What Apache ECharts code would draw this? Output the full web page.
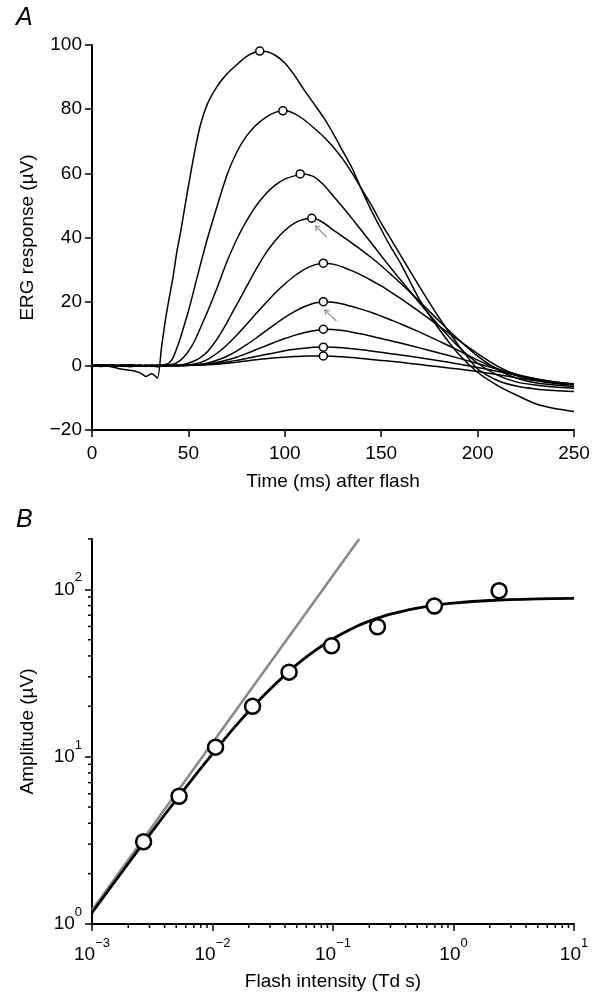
<!DOCTYPE html>
<html>
<head>
<meta charset="utf-8">
<script src="https://cdn.jsdelivr.net/npm/echarts@6/dist/echarts.min.js"></script>
<style>
  html, body { margin: 0; padding: 0; background: #fff; }
  #chart { width: 602px; height: 995px; }
</style>
</head>
<body>
<div id="chart"></div>
<script>
// panel A: ERG traces, time in ms, response in µV (dimmest flash first)
const timeMs = [0,5,10,15,20,25,28,31,34,36,38,40,42,44,46,48,50,53,56,60,65,70,75,80,85,90,95,100,
  105,110,115,120,125,130,135,140,145,150,155,160,170,180,190,200,210,220,230,240,250];

const trace1 = [0.1,0.3,0,0.1,0.2,0, 0.1,0,0.2, 0.1,0,0.1,0.2,0,0.1,0.2,0.1, 0.2,0.2,0.3,
  0.5,0.8,1.1,1.5,1.9,2.2,2.5,2.7, 2.9,3,3.1,3.1,3,2.8,2.6,2.3,2,1.7,1.4,1.1,
  0.4,-0.3,-1,-1.8,-2.7,-3.7,-4.6,-5.3,-5.9];
const trace2 = [0.2,0,0.1,0.2,0,-0.1, 0.1,0.2,0, 0.1,0.2,0,0.1,0.2,0.1,0,0.2, 0.3,0.3,0.5,
  0.8,1.2,1.7,2.3,2.9,3.5,4.1,4.7, 5.2,5.5,5.8,5.9,5.8,5.6,5.3,5,4.6,4.2,3.8,3.4,
  2.5,1.6,0.6,-0.5,-1.7,-2.9,-4,-5,-5.7];
const trace3 = [0,0.2,0.1,-0.1,0.1,0.2, -0.1,0.1,0.2, 0,0.1,0.2,0,0.1,0.2,0.1,0.2, 0.2,0.4,0.6,
  1.1,1.8,2.7,3.8,5,6.2,7.4,8.5, 9.5,10.3,10.9,11.4,11.3,11,10.5,9.9,9.2,8.5,7.8,7.1,
  5.6,4,2.4,0.7,-1,-2.6,-4,-5,-5.6];
const trace4 = [0.1,0,-0.2,0.1,0.2,-0.1, 0,0.2,-0.1, 0.1,0,0.2,0.1,-0.1,0.2,0.1,0.2, 0.3,0.5,0.9,
  1.8,3,4.6,6.5,8.6,10.8,13,15.1, 16.9,18.4,19.5,20,19.8,19.3,18.5,17.6,16.6,15.5,14.3,13.1,
  10.5,7.7,4.8,1.8,-0.8,-3,-4.4,-5.2,-5.8];
const trace5 = [-0.2,0.1,0,0.2,-0.1,0.1, 0.2,-0.1,0.1, 0,0.2,-0.1,0.1,0.2,0,0.2,0.3, 0.6,1,2,
  4,6.5,9.5,12.8,16.2,19.5,22.7,25.5, 28,30,31.4,32,31.7,30.8,29.6,28.2,26.6,24.9,23,21,
  16.8,12.4,8,3.8,0,-2.8,-4.5,-5.5,-6];
const trace6 = [0.1,-0.2,0.2,-0.1,0,0.2, -0.1,0.2,0, 0.1,-0.1,0.2,0,0.3,0.2,0.5,0.8, 1.5,2.5,4.5,
  8.5,13.5,19,24.5,30,35,39,42.2, 44.5,45.7,46,44.6,42.4,40.3,38.2,36,33.7,31.2,28.5,25.8,
  20,14,8.3,3,-1,-3.8,-5.3,-6,-6.5];
const trace7 = [-0.1,0.2,-0.2,0.1,0.3,-0.1, 0.2,-0.2,0.1, 0.2,0.1,0.3,0.5,1,1.8,3,4.5, 7.5,11.5,17,
  24.5,32.5,39.3,45,49.8,53.5,56.3,58.2, 59.2,59.8,59,56.5,53,49.5,45.8,42,38.2,34.3,30.5,26.8,
  19.5,12.5,6,0.8,-2.8,-5,-6,-6.6,-7];
const trace8 = [0.2,-0.1,0.3,0,-0.3,0.2, -0.2,0.1,-0.3, 0,0.4,0.9,2.5,5.5,9,13,17, 24,31,40,
  50,59.5,66.5,71.5,75,77.4,79,79.6, 78.6,76.7,74.2,71.5,68.3,64.5,60,55,50,44.5,39.5,34.5,
  24.5,15,6.5,-1,-4.5,-6.3,-7.2,-7.7,-8];
const trace9 = [0,0.3,-0.2,-1,-1.4,-2.2, -3.3,-2.5,-3.8, 5.5,14,21,27.5,35.5,41.8,49,56, 66,74.5,81.8,
  87.2,91,93.8,96.4,97.8,98,96.8,94.4, 90.6,86,81.8,77.5,72.5,67,61.5,54.7,48.3,42.5,37,32,
  20.5,11.5,3.8,-2,-6,-9.1,-11.8,-13.3,-14.2];
const traces = [trace1, trace2, trace3, trace4, trace5, trace6, trace7, trace8, trace9];

// peak of each trace (also the amplitudes of panel B)
const peakTimeMs = [120, 120, 120, 120, 120, 114, 108, 99, 87];
const peakAmp = [3.1, 5.8, 11.4, 20, 32, 46, 59.8, 79.5, 98.1];

// grey arrows in panel A: tail and tip (ms, µV)
const arrowTail = [[121.9, 40.1], [126.8, 14.0]];
const arrowTip = [[115.9, 43.6], [120.7, 17.4]];

// panel B: flash intensity (Td s)
const flashIntensity = [0.00268, 0.00528, 0.0106, 0.0215, 0.0432, 0.0973, 0.234, 0.694, 2.39];

// fitted curve
const fitIntensity = [0.001,0.002,0.003,0.005,0.007,0.01,0.015,0.02,0.03,0.05,0.07,0.1,0.15,0.2,0.3,0.5,0.7,1,2,5,10];
const fitAmp = [1.17,2.3,3.41,5.53,7.56,10.4,14.8,18.7,25.3,35.5,42.8,50.7,59.2,64.6,71.1,77.3,80.3,82.8,85.8,87.7,88.3];

// grey straight line (slope 1)
const linearIntensity = [0.001, 0.165];
const linearAmp = [1.21, 200];

// log axis ticks
const majorX = [0.001, 0.01, 0.1, 1, 10];
const majorY = [1, 10, 100];
const minorX = [];
for (let k = -3; k <= 0; k++) for (let m = 2; m <= 9; m++) minorX.push(m * Math.pow(10, k));
const minorY = [];
for (let k = 0; k <= 1; k++) for (let m = 2; m <= 9; m++) minorY.push(m * Math.pow(10, k));
minorY.push(200);

const FONT = 'Liberation Sans';
const black = '#000';

function supLabel(v) {
  const lg = Math.log10(v);
  const e = Math.round(lg);
  if (Math.abs(lg - e) > 1e-6) return '';
  return '{b|10}{s|' + String(e).replace('-', '\u2212') + '}';
}
const supRich = {
  b: { fontSize: 19, fontFamily: FONT, color: black, lineHeight: 36 },
  s: { fontSize: 13, fontFamily: FONT, color: black, lineHeight: 13, verticalAlign: 'top' }
};

const chart = echarts.init(document.getElementById('chart'), null, { renderer: 'canvas' });

const series = traces.map(tr => ({
  type: 'line',
  xAxisIndex: 0, yAxisIndex: 0,
  data: timeMs.map((t, i) => [t, tr[i]]),
  showSymbol: false,
  smooth: 0.2,
  silent: true,
  lineStyle: { color: black, width: 1.5 },
  z: 2
}));

series.push({
  type: 'scatter',
  xAxisIndex: 0, yAxisIndex: 0,
  data: peakTimeMs.map((t, i) => [t, peakAmp[i]]),
  symbol: 'circle',
  symbolSize: 8,
  itemStyle: { color: '#fff', borderColor: black, borderWidth: 1.5, opacity: 1 },
  silent: true,
  z: 5
});

series.push({
  type: 'custom',
  xAxisIndex: 0, yAxisIndex: 0,
  data: arrowTail.map((a, i) => [a[0], a[1], arrowTip[i][0], arrowTip[i][1]]),
  encode: { x: [0, 2], y: [1, 3] },
  silent: true,
  z: 6,
  renderItem: (params, api) => {
    const a = api.coord([api.value(0), api.value(1)]);
    const b = api.coord([api.value(2), api.value(3)]);
    const ang = Math.atan2(b[1] - a[1], b[0] - a[0]);
    const h = 5;
    const p1 = [b[0] - h * Math.cos(ang - 0.6), b[1] - h * Math.sin(ang - 0.6)];
    const p2 = [b[0] - h * Math.cos(ang + 0.6), b[1] - h * Math.sin(ang + 0.6)];
    return {
      type: 'group',
      children: [
        { type: 'line', shape: { x1: a[0], y1: a[1], x2: b[0], y2: b[1] }, style: { stroke: '#999', lineWidth: 1.3 } },
        { type: 'polyline', shape: { points: [p1, b, p2] }, style: { stroke: '#999', lineWidth: 1.3, fill: null } }
      ]
    };
  }
});

series.push({
  type: 'line',
  xAxisIndex: 1, yAxisIndex: 1,
  data: linearIntensity.map((x, i) => [x, linearAmp[i]]),
  showSymbol: false,
  silent: true,
  lineStyle: { color: '#888', width: 2.5 },
  z: 2
});

series.push({
  type: 'line',
  xAxisIndex: 1, yAxisIndex: 1,
  data: fitIntensity.map((x, i) => [x, fitAmp[i]]),
  showSymbol: false,
  smooth: 0.3,
  silent: true,
  lineStyle: { color: black, width: 2.8 },
  z: 3
});

series.push({
  type: 'scatter',
  xAxisIndex: 1, yAxisIndex: 1,
  data: flashIntensity.map((x, i) => [x, peakAmp[i]]),
  symbol: 'circle',
  symbolSize: 15,
  itemStyle: { color: '#fff', borderColor: black, borderWidth: 2.5, opacity: 1 },
  silent: true,
  z: 5
});

// minor ticks on the log axes
series.push({
  type: 'custom',
  xAxisIndex: 1, yAxisIndex: 1,
  data: minorX.map(v => [v, 1]),
  silent: true,
  clip: false,
  renderItem: (params, api) => {
    const p = api.coord([api.value(0), api.value(1)]);
    return { type: 'line', shape: { x1: p[0], y1: p[1], x2: p[0], y2: p[1] + 4 }, style: { stroke: black, lineWidth: 1.5 } };
  }
});
series.push({
  type: 'custom',
  xAxisIndex: 1, yAxisIndex: 1,
  data: minorY.map(v => [0.001, v]),
  silent: true,
  clip: false,
  renderItem: (params, api) => {
    const p = api.coord([api.value(0), api.value(1)]);
    return { type: 'line', shape: { x1: p[0] - 4, y1: p[1], x2: p[0], y2: p[1] }, style: { stroke: black, lineWidth: 1.5 } };
  }
});

const axisCommon = {
  axisLine: { show: true, onZero: false, lineStyle: { color: black, width: 2 } },
  axisTick: { show: true, inside: false, length: 7, lineStyle: { color: black, width: 1.5 } },
  splitLine: { show: false },
  nameTextStyle: { fontFamily: FONT, fontSize: 19, color: black }
};

const option = {
  animation: false,
  backgroundColor: '#fff',
  grid: [
    { left: 92, top: 45, width: 482, height: 385, outerBoundsMode: 'none' },
    { left: 92, top: 539, width: 482, height: 385, outerBoundsMode: 'none' }
  ],
  xAxis: [
    Object.assign({}, axisCommon, {
      type: 'value', gridIndex: 0, min: 0, max: 250, interval: 50,
      name: 'Time (ms) after flash', nameLocation: 'middle', nameGap: 42,
      axisLabel: { fontFamily: FONT, fontSize: 19, color: black, margin: 14 }
    }),
    Object.assign({}, axisCommon, {
      type: 'log', logBase: 10, gridIndex: 1, min: 0.001, max: 10,
      name: 'Flash intensity (Td s)', nameLocation: 'middle', nameGap: 48,
      axisTick: Object.assign({}, axisCommon.axisTick, { customValues: majorX }),
      axisLabel: { margin: 13, formatter: supLabel, rich: supRich, customValues: majorX }
    })
  ],
  yAxis: [
    Object.assign({}, axisCommon, {
      type: 'value', gridIndex: 0, min: -20, max: 100, interval: 20,
      name: 'ERG response (µV)', nameLocation: 'middle', nameGap: 55,
      axisLabel: { fontFamily: FONT, fontSize: 19, color: black, margin: 10,
        formatter: v => String(v).replace('-', '\u2212') }
    }),
    Object.assign({}, axisCommon, {
      type: 'log', logBase: 10, gridIndex: 1, min: 1, max: 200,
      name: 'Amplitude (µV)', nameLocation: 'middle', nameGap: 55,
      axisTick: Object.assign({}, axisCommon.axisTick, { customValues: majorY }),
      axisLabel: { margin: 10, formatter: supLabel, rich: supRich, customValues: majorY }
    })
  ],
  graphic: [
    { type: 'text', left: 16, top: 6, style: { text: 'A', font: 'italic 25px "Liberation Sans"', fill: black } },
    { type: 'text', left: 16, top: 508, style: { text: 'B', font: 'italic 25px "Liberation Sans"', fill: black } }
  ],
  series: series
};

chart.setOption(option);
</script>
</body>
</html>
